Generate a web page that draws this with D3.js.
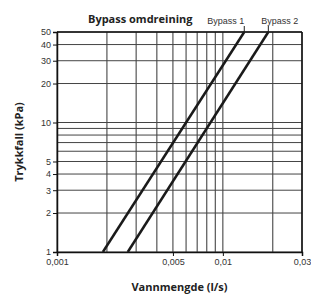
<!DOCTYPE html>
<html>
<head>
<meta charset="utf-8">
<script src="https://cdn.jsdelivr.net/npm/d3@7"></script>
<style>
  body { margin: 0; background: #fff; }
  svg { display: block; }
</style>
</head>
<body>
<div id="chart"></div>
<script>
// グリッド線と目盛り
var xGrid = [0.001, 0.002, 0.003, 0.004, 0.005, 0.006, 0.007, 0.008, 0.009, 0.01, 0.02, 0.03];
var xLabels = [0.001, 0.005, 0.01, 0.03];
var yGrid = [1, 2, 3, 4, 5, 6, 7, 8, 9, 10, 20, 30, 40, 50];
var yLabels = [1, 2, 3, 4, 5, 10, 20, 30, 40, 50];

// 系列 (流量 l/s, 圧力損失 kPa)
var seriesNames = ['Bypass 1', 'Bypass 2'];
var bypass1Flow = [0.00189, 0.01346];
var bypass1Drop = [1, 50];
var bypass2Flow = [0.00267, 0.0188];
var bypass2Drop = [1, 50];

var width = 311;
var height = 295;
var margin = {top: 32, right: 9, bottom: 43, left: 57};
var w = width - margin.left - margin.right;
var h = height - margin.top - margin.bottom;

var tickFont = '"Liberation Sans Narrow", "Liberation Sans", sans-serif';
var titleFont = '"Open Sans", "Liberation Sans", sans-serif';

var svg = d3.select('#chart').append('svg')
  .attr('width', width).attr('height', height);

var g = svg.append('g')
  .attr('transform', 'translate(' + margin.left + ',' + margin.top + ')');

var x = d3.scaleLog().domain([0.001, 0.03]).range([0, w]);
var y = d3.scaleLog().domain([1, 50]).range([h, 0]);

function comma(d) {
  return String(d).replace('.', ',');
}

// 縦のグリッド
g.append('g').selectAll('line').data(xGrid).enter()
  .append('line')
  .attr('x1', function(d) { return x(d); })
  .attr('x2', function(d) { return x(d); })
  .attr('y1', 0).attr('y2', h)
  .attr('stroke', '#333')
  .attr('stroke-width', 1);

// 横のグリッド
g.append('g').selectAll('line').data(yGrid).enter()
  .append('line')
  .attr('y1', function(d) { return y(d); })
  .attr('y2', function(d) { return y(d); })
  .attr('x1', 0).attr('x2', w)
  .attr('stroke', '#444')
  .attr('stroke-width', 1);

// 軸
var xAxis = d3.axisBottom(x).tickValues(xLabels).tickSize(4).tickPadding(3).tickFormat(comma);
var yAxis = d3.axisLeft(y).tickValues(yLabels).tickSize(4).tickPadding(2).tickFormat(d3.format('d'));

var xg = g.append('g').attr('transform', 'translate(0,' + h + ')').call(xAxis);
var yg = g.append('g').call(yAxis);

[xg, yg].forEach(function(a) {
  a.select('.domain').attr('stroke', '#111').attr('stroke-width', 1.5);
  a.selectAll('.tick line').attr('stroke', '#111');
  a.selectAll('.tick text')
    .attr('fill', '#333')
    .style('font-family', tickFont)
    .style('font-size', '9px');
});

// 右と上の枠
g.append('line').attr('x1', w).attr('x2', w).attr('y1', 0).attr('y2', h)
  .attr('stroke', '#111').attr('stroke-width', 1.5);
g.append('line').attr('x1', 0).attr('x2', w).attr('y1', 0).attr('y2', 0)
  .attr('stroke', '#111').attr('stroke-width', 1.5);

// 系列の線
var series = [
  {name: seriesNames[0], flow: bypass1Flow, drop: bypass1Drop, anchor: 'end', dx: 0},
  {name: seriesNames[1], flow: bypass2Flow, drop: bypass2Drop, anchor: 'start', dx: -7}
];

var line = d3.line()
  .x(function(d) { return x(d[0]); })
  .y(function(d) { return y(d[1]); });

series.forEach(function(s) {
  var pts = d3.zip(s.flow, s.drop);
  g.append('path')
    .datum(pts)
    .attr('d', line)
    .attr('fill', 'none')
    .attr('stroke', '#1a1a1a')
    .attr('stroke-width', 2.5);

  // ラベルへの引き出し線
  var last = pts[pts.length - 1];
  g.append('line')
    .attr('x1', x(last[0])).attr('x2', x(last[0]))
    .attr('y1', y(last[1])).attr('y2', y(last[1]) - 6)
    .attr('stroke', '#222').attr('stroke-width', 1);

  g.append('text')
    .attr('x', x(last[0]) + s.dx)
    .attr('y', y(last[1]) - 8)
    .attr('text-anchor', s.anchor)
    .attr('fill', '#333')
    .style('font-family', tickFont)
    .style('font-size', '9px')
    .text(s.name);
});

// タイトル
svg.append('text')
  .attr('x', 88).attr('y', 23)
  .attr('fill', '#222')
  .style('font-family', titleFont)
  .style('font-size', '11px')
  .style('font-weight', 'bold')
  .text('Bypass omdreining');

svg.append('text')
  .attr('x', margin.left + w / 2).attr('y', 291)
  .attr('text-anchor', 'middle')
  .attr('fill', '#222')
  .style('font-family', titleFont)
  .style('font-size', '11px')
  .style('font-weight', 'bold')
  .text('Vannmengde (l/s)');

svg.append('text')
  .attr('transform', 'translate(23,' + (margin.top + h / 2) + ') rotate(-90)')
  .attr('text-anchor', 'middle')
  .attr('fill', '#222')
  .style('font-family', titleFont)
  .style('font-size', '11px')
  .style('font-weight', 'bold')
  .text('Trykkfall (kPa)');
</script>
</body>
</html>
